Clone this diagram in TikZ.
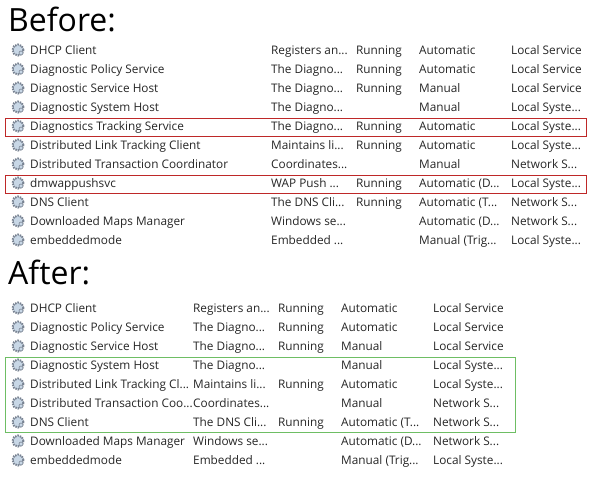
\documentclass[tikz,border=0pt]{standalone}
\usepackage{fontspec}
\setmainfont{Open Sans}
\newcommand\el{...}
\definecolor{gearc}{RGB}{120,130,145}
\definecolor{gearf}{RGB}{200,215,230}
\definecolor{redc}{RGB}{190,40,40}
\definecolor{greenc}{RGB}{110,190,100}
\begin{document}
\begin{tikzpicture}[x=1pt,y=-1pt,
  cell/.style={anchor=base west,inner sep=0pt,font=\fontsize{11.8}{12}\selectfont,text=black!85},
  title/.style={anchor=west,inner sep=0pt,font=\fontsize{32}{34}\selectfont},
  gear/.style={circle,draw=gearc,fill=gearf,line width=2pt,dash pattern=on 1.5pt off 1pt,minimum size=11pt,inner sep=0pt},
  hub/.style={circle,draw=gearc,fill=gearf,line width=0.6pt,minimum size=4pt,inner sep=0pt},
  redbox/.style={draw=redc,line width=0.8pt},
  greenbox/.style={draw=greenc,line width=0.8pt}]
\useasboundingbox (0,0) rectangle (600,481);
\fill[white] (0,0) rectangle (600,481);
\node[title] (tb) at (8,19) {Before:};
\node[title] (ta) at (8,272) {After:};
\foreach \n/\a/\b/\c/\e [count=\i] in {
 DHCP Client/Registers an\el/Running/Automatic/Local Service,
 Diagnostic Policy Service/The Diagno\el/Running/Automatic/Local Service,
 Diagnostic Service Host/The Diagno\el/Running/Manual/Local Service,
 Diagnostic System Host/The Diagno\el/ /Manual/Local Syste\el,
 Diagnostics Tracking Service/The Diagno\el/Running/Automatic/Local Syste\el,
 Distributed Link Tracking Client/Maintains li\el/Running/Automatic/Local Syste\el,
 Distributed Transaction Coordinator/Coordinates\el/ /Manual/Network S\el,
 dmwappushsvc/WAP Push \el/Running/Automatic (D\el/Local Syste\el,
 DNS Client/The DNS Cli\el/Running/Automatic (T\el/Network S\el,
 Downloaded Maps Manager/Windows se\el/ /Automatic (D\el/Network S\el,
 embeddedmode/Embedded \el/ /Manual (Trig\el/Local Syste\el}{
  \pgfmathsetmacro{\yy}{50+19*(\i-1)}
  \node[gear] (bg\i) at (18,\yy) {};
  \node[hub] (bh\i) at (21,\yy+3) {};
  \node[cell] (bn\i) at (30,\yy+4.5) {\n};
  \node[cell] (ba\i) at (271,\yy+4.5) {\a};
  \node[cell] (bb\i) at (356,\yy+4.5) {\b};
  \node[cell] (bc\i) at (419,\yy+4.5) {\c};
  \node[cell] (bd\i) at (511,\yy+4.5) {\e};
}
\foreach \n/\a/\b/\c/\e [count=\i] in {
 DHCP Client/Registers an\el/Running/Automatic/Local Service,
 Diagnostic Policy Service/The Diagno\el/Running/Automatic/Local Service,
 Diagnostic Service Host/The Diagno\el/Running/Manual/Local Service,
 Diagnostic System Host/The Diagno\el/ /Manual/Local Syste\el,
 Distributed Link Tracking Cl\el/Maintains li\el/Running/Automatic/Local Syste\el,
 Distributed Transaction Coo\el/Coordinates\el/ /Manual/Network S\el,
 DNS Client/The DNS Cli\el/Running/Automatic (T\el/Network S\el,
 Downloaded Maps Manager/Windows se\el/ /Automatic (D\el/Network S\el,
 embeddedmode/Embedded \el/ /Manual (Trig\el/Local Syste\el}{
  \pgfmathsetmacro{\yy}{308+19*(\i-1)}
  \node[gear] (ag\i) at (18,\yy) {};
  \node[hub] (ah\i) at (21,\yy+3) {};
  \node[cell] (an\i) at (30,\yy+4.5) {\n};
  \node[cell] (aa\i) at (193,\yy+4.5) {\a};
  \node[cell] (ab\i) at (278,\yy+4.5) {\b};
  \node[cell] (ac\i) at (341,\yy+4.5) {\c};
  \node[cell] (ad\i) at (433,\yy+4.5) {\e};
}
\draw[redbox] (5,118) rectangle (586,136);
\draw[redbox] (5,175) rectangle (586,193);
\draw[greenbox] (5,357) rectangle (515,432);
\end{tikzpicture}
\end{document}
